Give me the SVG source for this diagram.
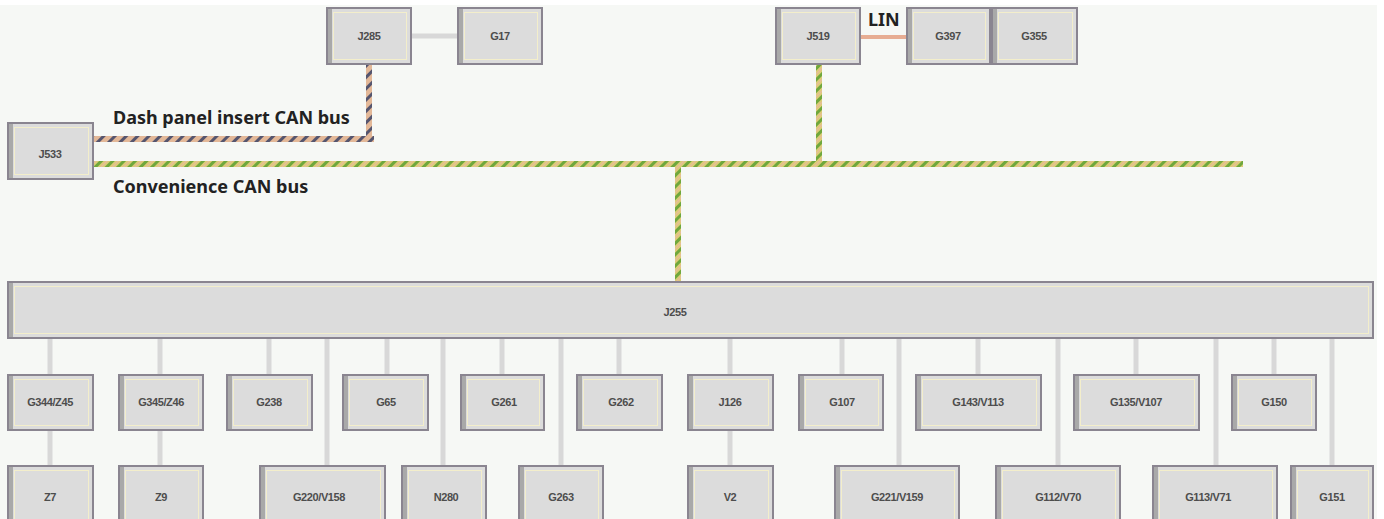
<svg xmlns="http://www.w3.org/2000/svg" width="1384" height="519" viewBox="0 0 1384 519">
<defs>
<style>
.box{fill:#dcdcdc;stroke:#8a8590;stroke-width:2}
.shade{fill:#a9a9a9}
.hl{fill:none;stroke:#f3eecb;stroke-width:1}
.lbl{font-family:"Liberation Sans",Arial,sans-serif;font-weight:bold;font-size:11px;fill:#4d4d4d;text-anchor:middle;letter-spacing:-0.4px}
.bus{font-family:"Noto Sans","Open Sans",sans-serif;font-weight:bold;font-size:18px;fill:#222}
.gray{stroke:#d8d8d8;stroke-width:5;fill:none}
.lin{stroke:#e7ad93;stroke-width:4;fill:none}
</style>
<pattern id="conv" patternUnits="userSpaceOnUse" width="8" height="8" patternTransform="rotate(45)">
<rect width="8" height="8" fill="#dccb78"/>
<rect x="0" width="3" height="8" fill="#6fa83c"/>
<rect x="5" width="1" height="8" fill="#e8b8a0"/>
</pattern>
<pattern id="dash" patternUnits="userSpaceOnUse" width="8" height="8" patternTransform="rotate(45)">
<rect width="8" height="8" fill="#e3b898"/>
<rect x="0" width="3" height="8" fill="#55556e"/>
</pattern>
</defs>
<rect width="1384" height="519" fill="#ffffff"/>
<rect x="0" y="5" width="1377" height="514" fill="#f6f8f5"/>

<g id="connectors">
<line class="gray" x1="411" y1="36" x2="458" y2="36"/>
<line class="lin" x1="860" y1="37" x2="907" y2="37"/>
<rect x="93" y="136" width="281" height="6" fill="url(#dash)"/>
<rect x="366" y="64" width="6" height="78" fill="url(#dash)"/>
<rect x="93" y="161" width="1150" height="6" fill="url(#conv)"/>
<rect x="816" y="64" width="6" height="100" fill="url(#conv)"/>
<rect x="675" y="164" width="6" height="118" fill="url(#conv)"/>
<g class="gray">
<line x1="50" y1="338" x2="50" y2="375"/>
<line x1="160" y1="338" x2="160" y2="375"/>
<line x1="269" y1="338" x2="269" y2="375"/>
<line x1="387" y1="338" x2="387" y2="375"/>
<line x1="502" y1="338" x2="502" y2="375"/>
<line x1="619" y1="338" x2="619" y2="375"/>
<line x1="730" y1="338" x2="730" y2="375"/>
<line x1="842" y1="338" x2="842" y2="375"/>
<line x1="978" y1="338" x2="978" y2="375"/>
<line x1="1136" y1="338" x2="1136" y2="375"/>
<line x1="1274" y1="338" x2="1274" y2="375"/>
<line x1="327" y1="338" x2="327" y2="466"/>
<line x1="443" y1="338" x2="443" y2="466"/>
<line x1="561" y1="338" x2="561" y2="466"/>
<line x1="899" y1="338" x2="899" y2="466"/>
<line x1="1058" y1="338" x2="1058" y2="466"/>
<line x1="1216" y1="338" x2="1216" y2="466"/>
<line x1="1332" y1="338" x2="1332" y2="466"/>
<line x1="50" y1="430" x2="50" y2="466"/>
<line x1="160" y1="430" x2="160" y2="466"/>
<line x1="730" y1="430" x2="730" y2="466"/>
</g>
</g>

<g id="labels">
<text class="bus" x="113" y="124">Dash panel insert CAN bus</text>
<text class="bus" x="113" y="193">Convenience CAN bus</text>
<text class="bus" x="868" y="26" font-size="17">LIN</text>
</g>

<g id="J285"><rect class="box" x="327" y="8" width="84" height="56"/><rect class="shade" x="328" y="9" width="4" height="54"/><rect class="hl" x="333.5" y="12.5" width="73" height="47"/><text class="lbl" x="369" y="40">J285</text></g>
<g id="G17"><rect class="box" x="458" y="8" width="84" height="56"/><rect class="shade" x="459" y="9" width="4" height="54"/><rect class="hl" x="464.5" y="12.5" width="73" height="47"/><text class="lbl" x="500" y="40">G17</text></g>
<g id="J519"><rect class="box" x="776" y="8" width="84" height="56"/><rect class="shade" x="777" y="9" width="4" height="54"/><rect class="hl" x="782.5" y="12.5" width="73" height="47"/><text class="lbl" x="818" y="40">J519</text></g>
<g id="G397"><rect class="box" x="907" y="8" width="83" height="56"/><rect class="shade" x="908" y="9" width="4" height="54"/><rect class="hl" x="913.5" y="12.5" width="72" height="47"/><text class="lbl" x="948" y="40">G397</text></g>
<g id="G355"><rect class="box" x="992" y="8" width="85" height="56"/><rect class="shade" x="993" y="9" width="4" height="54"/><rect class="hl" x="998.5" y="12.5" width="74" height="47"/><text class="lbl" x="1034" y="40">G355</text></g>
<g id="J533"><rect class="box" x="8" y="123" width="85" height="56"/><rect class="shade" x="9" y="124" width="4" height="54"/><rect class="hl" x="14.5" y="127.5" width="74" height="47"/><text class="lbl" x="50" y="158">J533</text></g>

<g id="J255"><rect class="box" x="8" y="282" width="1365" height="56"/><rect class="shade" x="9" y="283" width="4" height="54"/><rect class="hl" x="14.5" y="286.5" width="1354" height="47"/><text class="lbl" x="675" y="316">J255</text></g>

<g id="G344-Z45"><rect class="box" x="8" y="375" width="85" height="55"/><rect class="shade" x="9" y="376" width="4" height="53"/><rect class="hl" x="14.5" y="379.5" width="74" height="46"/><text class="lbl" x="50" y="406">G344/Z45</text></g>
<g id="G345-Z46"><rect class="box" x="119" y="375" width="84" height="55"/><rect class="shade" x="120" y="376" width="4" height="53"/><rect class="hl" x="125.5" y="379.5" width="73" height="46"/><text class="lbl" x="161" y="406">G345/Z46</text></g>
<g id="G238"><rect class="box" x="227" y="375" width="85" height="55"/><rect class="shade" x="228" y="376" width="4" height="53"/><rect class="hl" x="233.5" y="379.5" width="74" height="46"/><text class="lbl" x="269" y="406">G238</text></g>
<g id="G65"><rect class="box" x="343" y="375" width="85" height="55"/><rect class="shade" x="344" y="376" width="4" height="53"/><rect class="hl" x="349.5" y="379.5" width="74" height="46"/><text class="lbl" x="386" y="406">G65</text></g>
<g id="G261"><rect class="box" x="461" y="375" width="83" height="55"/><rect class="shade" x="462" y="376" width="4" height="53"/><rect class="hl" x="467.5" y="379.5" width="72" height="46"/><text class="lbl" x="504" y="406">G261</text></g>
<g id="G262"><rect class="box" x="577" y="375" width="85" height="55"/><rect class="shade" x="578" y="376" width="4" height="53"/><rect class="hl" x="583.5" y="379.5" width="74" height="46"/><text class="lbl" x="621" y="406">G262</text></g>
<g id="J126"><rect class="box" x="688" y="375" width="85" height="55"/><rect class="shade" x="689" y="376" width="4" height="53"/><rect class="hl" x="694.5" y="379.5" width="74" height="46"/><text class="lbl" x="730" y="406">J126</text></g>
<g id="G107"><rect class="box" x="799" y="375" width="84" height="55"/><rect class="shade" x="800" y="376" width="4" height="53"/><rect class="hl" x="805.5" y="379.5" width="73" height="46"/><text class="lbl" x="842" y="406">G107</text></g>
<g id="G143-V113"><rect class="box" x="916" y="375" width="125" height="55"/><rect class="shade" x="917" y="376" width="4" height="53"/><rect class="hl" x="922.5" y="379.5" width="114" height="46"/><text class="lbl" x="978" y="406">G143/V113</text></g>
<g id="G135-V107"><rect class="box" x="1074" y="375" width="125" height="55"/><rect class="shade" x="1075" y="376" width="4" height="53"/><rect class="hl" x="1080.5" y="379.5" width="114" height="46"/><text class="lbl" x="1136" y="406">G135/V107</text></g>
<g id="G150"><rect class="box" x="1232" y="375" width="84" height="55"/><rect class="shade" x="1233" y="376" width="4" height="53"/><rect class="hl" x="1238.5" y="379.5" width="73" height="46"/><text class="lbl" x="1274" y="406">G150</text></g>

<g id="Z7"><rect class="box" x="8" y="466" width="85" height="62"/><rect class="shade" x="9" y="467" width="4" height="60"/><rect class="hl" x="14.5" y="470.5" width="74" height="53"/><text class="lbl" x="50" y="501">Z7</text></g>
<g id="Z9"><rect class="box" x="119" y="466" width="84" height="62"/><rect class="shade" x="120" y="467" width="4" height="60"/><rect class="hl" x="125.5" y="470.5" width="73" height="53"/><text class="lbl" x="161" y="501">Z9</text></g>
<g id="G220-V158"><rect class="box" x="260" y="466" width="125" height="62"/><rect class="shade" x="261" y="467" width="4" height="60"/><rect class="hl" x="266.5" y="470.5" width="114" height="53"/><text class="lbl" x="319" y="501">G220/V158</text></g>
<g id="N280"><rect class="box" x="402" y="466" width="84" height="62"/><rect class="shade" x="403" y="467" width="4" height="60"/><rect class="hl" x="408.5" y="470.5" width="73" height="53"/><text class="lbl" x="446" y="501">N280</text></g>
<g id="G263"><rect class="box" x="519" y="466" width="84" height="62"/><rect class="shade" x="520" y="467" width="4" height="60"/><rect class="hl" x="525.5" y="470.5" width="73" height="53"/><text class="lbl" x="561" y="501">G263</text></g>
<g id="V2"><rect class="box" x="688" y="466" width="85" height="62"/><rect class="shade" x="689" y="467" width="4" height="60"/><rect class="hl" x="694.5" y="470.5" width="74" height="53"/><text class="lbl" x="730" y="501">V2</text></g>
<g id="G221-V159"><rect class="box" x="835" y="466" width="124" height="62"/><rect class="shade" x="836" y="467" width="4" height="60"/><rect class="hl" x="841.5" y="470.5" width="113" height="53"/><text class="lbl" x="897" y="501">G221/V159</text></g>
<g id="G112-V70"><rect class="box" x="996" y="466" width="124" height="62"/><rect class="shade" x="997" y="467" width="4" height="60"/><rect class="hl" x="1002.5" y="470.5" width="113" height="53"/><text class="lbl" x="1058" y="501">G112/V70</text></g>
<g id="G113-V71"><rect class="box" x="1153" y="466" width="124" height="62"/><rect class="shade" x="1154" y="467" width="4" height="60"/><rect class="hl" x="1159.5" y="470.5" width="113" height="53"/><text class="lbl" x="1208" y="501">G113/V71</text></g>
<g id="G151"><rect class="box" x="1291" y="466" width="82" height="62"/><rect class="shade" x="1292" y="467" width="4" height="60"/><rect class="hl" x="1297.5" y="470.5" width="71" height="53"/><text class="lbl" x="1332" y="501">G151</text></g>
</svg>
